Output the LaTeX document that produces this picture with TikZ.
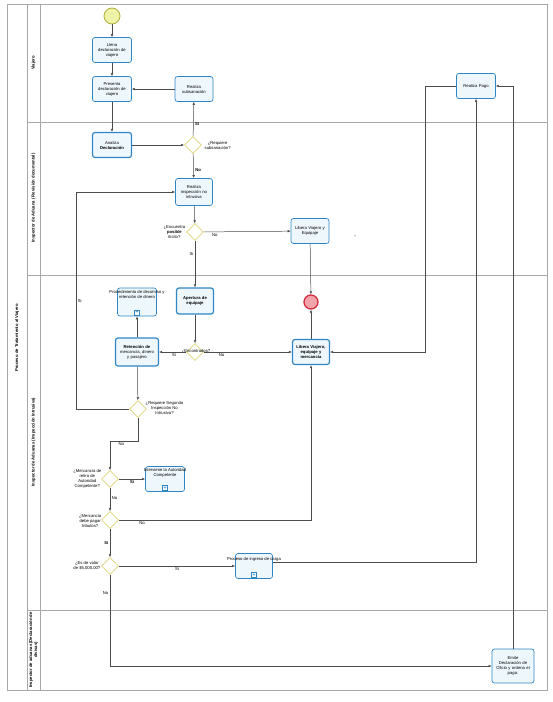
\documentclass[tikz,border=0pt]{standalone}
\usepackage{fontspec}
\setmainfont{Liberation Sans}
\usetikzlibrary{shapes.geometric,arrows.meta,calc}
\definecolor{taskblue}{HTML}{2F86C6}
\definecolor{taskfill}{HTML}{EEF7FC}
\definecolor{gwline}{HTML}{DCD77A}
\definecolor{startfill}{HTML}{EEF3A6}
\definecolor{startline}{HTML}{A9AE3C}
\definecolor{endfill}{HTML}{F4A3AA}
\definecolor{endline}{HTML}{D2303E}
\definecolor{laneline}{HTML}{A8A8A8}
\begin{document}
\begin{tikzpicture}[x=1pt,y=-1pt,
 task/.style={draw=taskblue, fill=taskfill, rounded corners=2.5pt, minimum width=39pt, minimum height=25pt, text width=35pt, align=center, inner sep=1pt, line width=0.7pt, font=\fontsize{4.2}{5}\selectfont},
 btask/.style={task, line width=1.2pt},
 gw/.style={diamond, draw=gwline, fill=white, minimum size=17pt, inner sep=0pt, line width=0.8pt},
 flow/.style={draw=black!70, line width=0.5pt, -{Latex[length=3pt,width=2.6pt]}},
 lab/.style={font=\fontsize{4.2}{5}\selectfont, inner sep=0.5pt, align=center},
 lanetxt/.style={rotate=90, font=\bfseries\fontsize{4.2}{5}\selectfont, align=center},
 submark/.style={draw=taskblue, fill=white, minimum size=5pt, inner sep=0pt, line width=0.5pt, font=\bfseries\fontsize{5}{5}\selectfont, text=taskblue}
]
\useasboundingbox (0,0) rectangle (553,702);
% pool and lanes
\draw[laneline, line width=0.6pt] (7,4) rectangle (547,690);
\draw[laneline, line width=0.6pt] (27,4) -- (27,690);
\draw[laneline, line width=0.6pt] (40,4) -- (40,690);
\draw[laneline, line width=0.7pt] (27,122) -- (547,122);
\draw[laneline, line width=0.7pt] (27,275) -- (547,275);
\draw[laneline, line width=0.7pt] (27,610) -- (547,610);
\node[lanetxt] (pool) at (17,338) {Proceso de Tratamiento al Viajero};
\node[lanetxt] (lane1) at (33.5,63) {Viajero};
\node[lanetxt] (lane2) at (33.5,198) {Inspector de Aduana ( Revisión documental)};
\node[lanetxt] (lane3) at (33.5,442) {Inspector de Aduanas (Inspección Intrusiva)};
\node[lanetxt] (lane4) at (33.5,650) {Inspector de aduanas (Declaración de\\divisas)};

% events
\node[circle, draw=startline, fill=startfill, minimum size=16pt, inner sep=0pt, line width=0.8pt] (start) at (112,16) {};
\node[circle, draw=endline, fill=endfill, minimum size=14pt, inner sep=0pt, line width=1.3pt] (end) at (311,302) {};

% tasks
\node[task] (llena) at (112,50) {Llena\\declaración de\\viajero};
\node[task] (presenta) at (112,89) {Presenta\\declaración de\\viajero};
\node[task, minimum width=38pt] (subsan) at (194,89) {Realiza\\subsanación};
\node[btask] (analiza) at (112,145) {Analiza\\\textbf{Declaración}};
\node[task, minimum width=37pt, minimum height=27pt] (insp) at (194,192) {Realiza\\inspección no\\intrusiva};
\node[task, minimum width=38pt] (liberave) at (310,231) {Libera Viajero y\\Equipaje};
\node[btask, minimum width=37pt, minimum height=26pt] (apertura) at (195,301) {\textbf{Apertura de}\\\textbf{equipaje}};
\node[task, minimum height=28pt] (proced) at (137,302) {};
\node[lab] (proctxt) at ([yshift=-6.5pt]proced.north) {Procedimiento de decomiso y\\retención de dinero};
\node[btask, minimum width=43pt, minimum height=28pt, text width=40pt] (reten) at (137,352) {\textbf{Retención de}\\mercancía, dinero\\y pasajero};
\node[btask, minimum width=37pt] (libera) at (311,352) {\textbf{Libera Viajero,}\\\textbf{equipaje y}\\\textbf{mercancía}};
\node[task] (interv) at (165,479) {};
\node[lab] (intervtxt) at ([yshift=-7pt]interv.north) {Interviene la Autoridad\\Competente};
\node[task, minimum width=37pt] (carga) at (254,566) {};
\node[lab] (cargatxt) at ([yshift=-6pt]carga.north) {Proceso de ingreso de carga};
\node[task] (pago) at (476,86) {Realiza Pago};
\node[task, minimum width=42pt, minimum height=34pt] (emite) at (513,666) {Emite\\Declaración de\\Oficio y ordena el\\pago.};

% subprocess markers
\node[submark] (m1) at ([yshift=4pt]proced.south) {+};
\node[submark] (m2) at ([yshift=4pt]interv.south) {+};
\node[submark] (m3) at ([yshift=4pt]carga.south) {+};

% gateways
\node[gw] (gw1) at (193,145) {};
\node[gw] (gw2) at (195,232) {};
\node[gw] (gw3) at (195,352) {};
\node[gw] (gw4) at (138,409) {};
\node[gw] (gw5) at (110,479) {};
\node[gw] (gw6) at (110,520) {};
\node[gw] (gw7) at (110,566) {};

% gateway labels
\node[lab, anchor=west] (t1) at (204,145) {¿Requiere\\subsanación?};
\node[lab, anchor=east] (t2) at (186,232) {¿Encuentra\\\textbf{posible}\\ilícito?};
\node[lab] (t3) at (196,351) {¿Encontrados?};
\node[lab, anchor=west] (t4) at (145,408) {¿Requiere Segunda\\Inspección No\\Intrusiva?};
\node[lab, anchor=east] (t5) at (102,479) {¿Mercancía de\\retiro de\\Autoridad\\Competente?};
\node[lab, anchor=east] (t6) at (102,521) {¿Mercancía\\debe pagar\\tributos?};
\node[lab, anchor=east] (t7) at (101,566) {¿Es de valor\\de \$5,000.00?};

% flows
\draw[flow] (start) -- (llena);
\draw[flow] (llena) -- (presenta);
\draw[flow] (presenta) -- (analiza);
\draw[flow] (analiza) -- (gw1);
\draw[flow] (gw1) -- node[lab, pos=0.35, right=1pt] (s1) {\textbf{Si}} (subsan);
\draw[flow] (subsan) -- (presenta);
\draw[flow] (gw1) -- node[lab, pos=0.65, right=1pt] (n1) {\textbf{No}} (insp);
\draw[flow] (insp) -- (gw2);
\draw[flow] (gw2) -- node[lab, pos=0.08, below right=0.5pt] (n2) {No} (liberave);
\draw[flow] (gw2) -- node[lab, pos=0.28, left=1pt] (s2) {Si} (apertura);
\draw[flow] (liberave) -- (end);
\draw[flow] (apertura) -- (gw3);
\draw[flow] (gw3) -- node[lab, pos=0.45, below=1pt] (s3) {Si} (reten);
\draw[flow] (gw3) -- node[lab, pos=0.2, below=1pt] (n3) {No} (libera);
\draw[flow] (reten) -- (proced);
\draw[flow] (libera) -- (end);
\draw[flow] (reten) -- (gw4);
\coordinate (c4) at (76,409);
\draw[flow] (gw4) -- (c4) |- node[lab, pos=0.25, right=1pt] (s4) {Si} (insp);
\coordinate (c5) at (138,441);
\draw[flow] (gw4) -- (c5) -| node[lab, pos=0.3, below=1pt] (n4) {No} (gw5);
\draw[flow] (gw5) -- node[lab, pos=0.5, below=1pt] (s5) {\textbf{Si}} (interv);
\draw[flow] (gw5) -- node[lab, pos=0.45, right=1pt] (n5) {No} (gw6);
\draw[flow] (gw6) -| node[lab, pos=0.06, below=1pt] (n6) {No} (libera);
\draw[flow] (gw6) -- node[lab, pos=0.5, left=1pt] (s6) {\textbf{Si}} (gw7);
\draw[flow] (gw7) -- node[lab, pos=0.5, below=1pt] (s7) {Si} (carga);
\draw[flow] ([yshift=4pt]carga.east) -| (pago);
\draw[flow] (gw7) |- node[lab, pos=0.1, left=1pt] (n7) {No} (emite);
\draw[flow] (emite) |- (pago);
\coordinate (c8) at (425,86);
\draw[flow] (pago) -- (c8) |- (libera);
\node[lab, text=black!50] (plus) at (355,236) {+};
\end{tikzpicture}
\end{document}
